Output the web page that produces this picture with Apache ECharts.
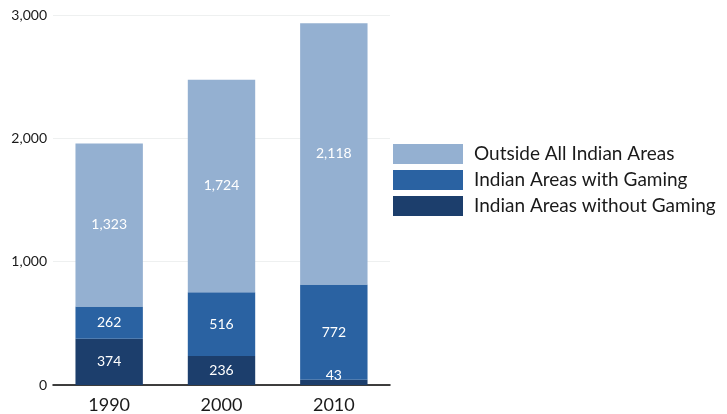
<!DOCTYPE html>
<html>
<head>
<meta charset="utf-8">
<script src="https://cdn.jsdelivr.net/npm/echarts@6/dist/echarts.min.js"></script>
<style>
  html, body { margin: 0; padding: 0; background: #fff; }
  #chart { width: 727px; height: 414px; }
</style>
</head>
<body>
<div id="chart"></div>
<script>
const years = ['1990', '2000', '2010']
const withoutGaming = [374, 236, 43]
const withGaming = [262, 516, 772]
const outsideAreas = [1323, 1724, 2118]
const yTicks = [0, 1000, 2000, 3000]

const font = 'Lato, "Open Sans", sans-serif'
const chart = echarts.init(document.getElementById('chart'))

const barLabel = {
  show: true,
  position: 'inside',
  color: '#fff',
  fontSize: 14,
  fontFamily: font,
  formatter: p => p.value.toLocaleString('en-US')
}

chart.setOption({
  animation: false,
  grid: { left: 53, right: 337, top: 15, bottom: 28 },
  legend: {
    orient: 'vertical',
    left: 388,
    top: 139,
    itemWidth: 70,
    itemHeight: 20,
    itemGap: 6,
    icon: 'rect',
    textStyle: { fontSize: 19, color: '#1a1a1a', fontFamily: font, padding: [0, 0, 0, 6] },
    data: ['Outside All Indian Areas', 'Indian Areas with Gaming', 'Indian Areas without Gaming']
  },
  xAxis: {
    type: 'category',
    data: years,
    axisTick: { show: false },
    axisLine: { lineStyle: { color: '#000', width: 1.5 } },
    axisLabel: { fontSize: 18, color: '#1a1a1a', fontFamily: font, margin: 11 }
  },
  yAxis: {
    type: 'value',
    min: yTicks[0],
    max: yTicks[yTicks.length - 1],
    interval: 1000,
    axisLine: { show: false },
    axisTick: { show: false },
    splitLine: { lineStyle: { color: '#eef0f0' } },
    axisLabel: { fontSize: 14, color: '#1a1a1a', fontFamily: font, margin: 6,
      formatter: v => v.toLocaleString('en-US') }
  },
  series: [
    {
      name: 'Indian Areas without Gaming',
      type: 'bar', stack: 'total', barWidth: '60%',
      itemStyle: { color: '#1c3e6c' },
      label: barLabel,
      data: withoutGaming.map(v => v < 100
        ? { value: v, label: { position: 'top', distance: -3 } }
        : v)
    },
    {
      name: 'Indian Areas with Gaming',
      type: 'bar', stack: 'total',
      itemStyle: { color: '#2a62a2' },
      label: barLabel,
      data: withGaming
    },
    {
      name: 'Outside All Indian Areas',
      type: 'bar', stack: 'total',
      itemStyle: { color: '#94b0d1' },
      label: barLabel,
      data: outsideAreas
    }
  ]
})
</script>
</body>
</html>
